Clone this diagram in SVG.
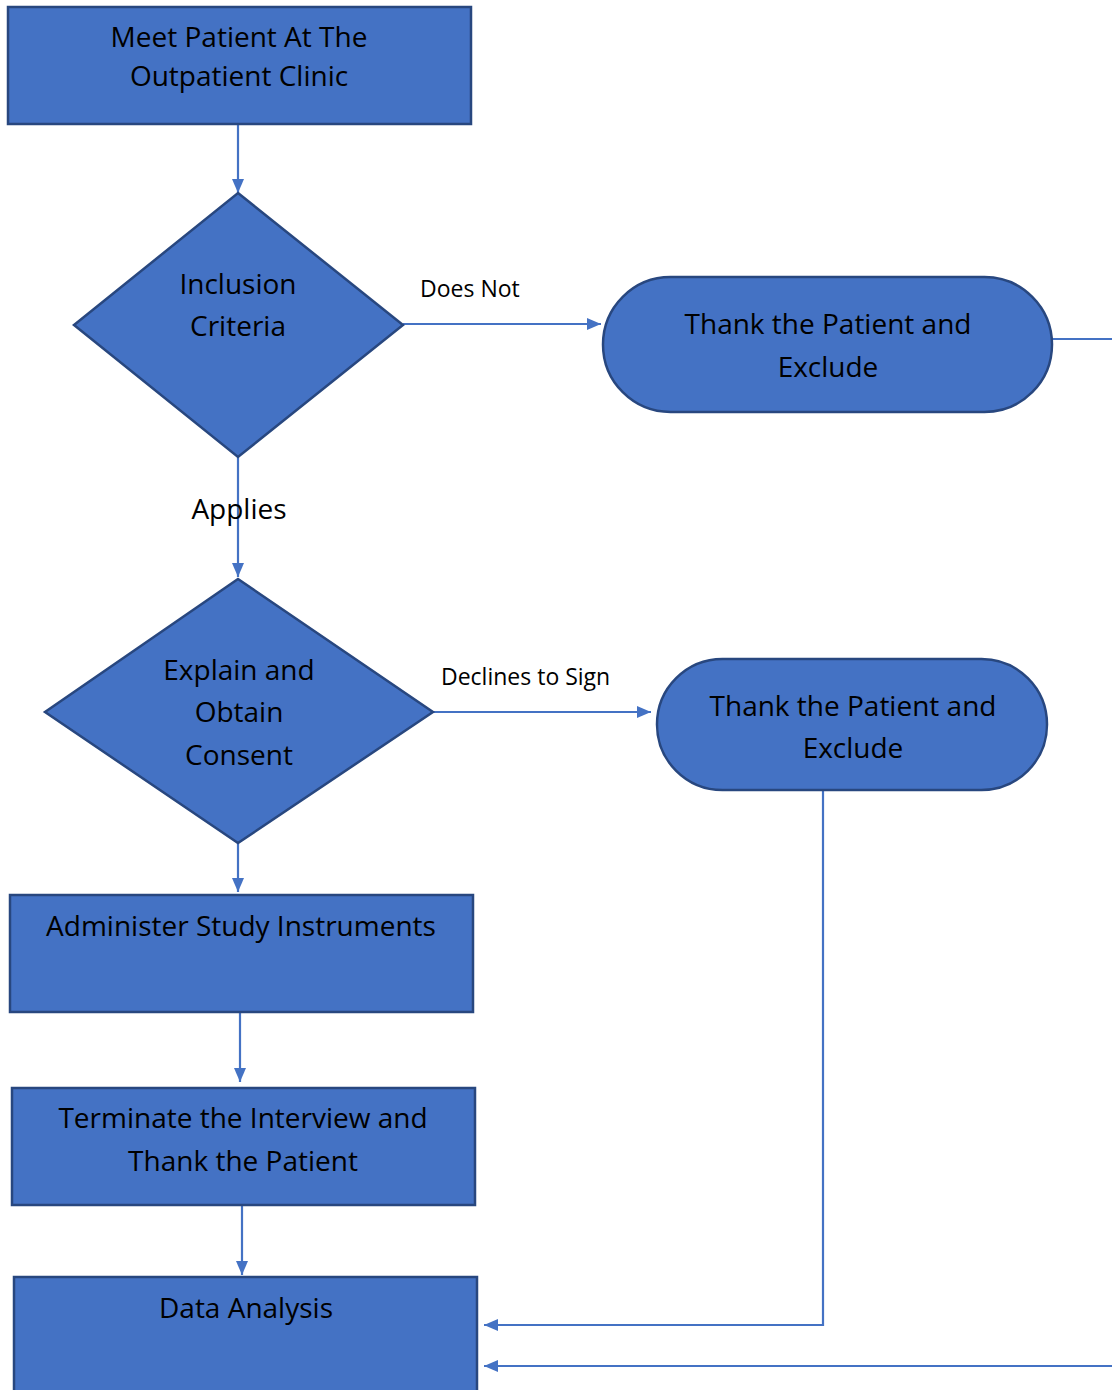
<svg xmlns="http://www.w3.org/2000/svg" width="1112" height="1390" viewBox="0 0 1112 1390">
<style>
.n{fill:#4472C4;stroke:#28477F;stroke-width:2.5}
.t{font-family:"Open Sans","Liberation Sans",Arial,sans-serif;font-size:28px;fill:#000;text-anchor:middle}
.l{font-family:"Open Sans","Liberation Sans",Arial,sans-serif;font-size:23px;fill:#000}
.c{fill:none;stroke:#4472C4;stroke-width:2.2}
</style>
<defs>
<marker id="a" viewBox="0 0 14 12" refX="14" refY="6" markerWidth="14" markerHeight="12" markerUnits="userSpaceOnUse" orient="auto">
<path d="M0,0 L14,6 L0,12 z" fill="#4472C4"/>
</marker>
</defs>
<rect width="1112" height="1390" fill="#fff"/>
<g id="connectors">
<path class="c" d="M238,124 V193" marker-end="url(#a)"/>
<path class="c" d="M403,324 H601" marker-end="url(#a)"/>
<path class="c" d="M1052,339 H1112"/>
<path class="c" d="M238,457 V577" marker-end="url(#a)"/>
<path class="c" d="M433,712 H651" marker-end="url(#a)"/>
<path class="c" d="M238,843 V892" marker-end="url(#a)"/>
<path class="c" d="M240,1012 V1082" marker-end="url(#a)"/>
<path class="c" d="M242,1205 V1275" marker-end="url(#a)"/>
<path class="c" d="M823,790 V1325 H484" marker-end="url(#a)"/>
<path class="c" d="M1112,1366 H484" marker-end="url(#a)"/>
<text class="l" x="420" y="297">Does Not</text>
<text class="l" x="441" y="685">Declines to Sign</text>
<text class="t" x="239" y="519">Applies</text>
</g>
<g id="meet">
<rect class="n" x="8" y="7" width="463" height="117"/>
<text class="t" x="239" y="47">Meet Patient At The</text>
<text class="t" x="239" y="86">Outpatient Clinic</text>
</g>
<g id="inclusion">
<polygon class="n" points="238,193 403,325 238,457 74,325"/>
<text class="t" x="238" y="294">Inclusion</text>
<text class="t" x="238" y="336">Criteria</text>
</g>
<g id="exclude1">
<rect class="n" x="603" y="277" width="449" height="135" rx="67.5" ry="67.5"/>
<text class="t" x="828" y="334">Thank the Patient and</text>
<text class="t" x="828" y="377">Exclude</text>
</g>
<g id="consent">
<polygon class="n" points="238,579 433,712 238,843 45,712"/>
<text class="t" x="239" y="680">Explain and</text>
<text class="t" x="239" y="722">Obtain</text>
<text class="t" x="239" y="765">Consent</text>
</g>
<g id="exclude2">
<rect class="n" x="657" y="659" width="390" height="131" rx="65.5" ry="65.5"/>
<text class="t" x="853" y="716">Thank the Patient and</text>
<text class="t" x="853" y="758">Exclude</text>
</g>
<g id="administer">
<rect class="n" x="10" y="895" width="463" height="117"/>
<text class="t" x="241" y="936">Administer Study Instruments</text>
</g>
<g id="terminate">
<rect class="n" x="12" y="1088" width="463" height="117"/>
<text class="t" x="243" y="1128">Terminate the Interview and</text>
<text class="t" x="243" y="1171">Thank the Patient</text>
</g>
<g id="analysis">
<rect class="n" x="14" y="1277" width="463" height="125"/>
<text class="t" x="246" y="1318">Data Analysis</text>
</g>
</svg>
